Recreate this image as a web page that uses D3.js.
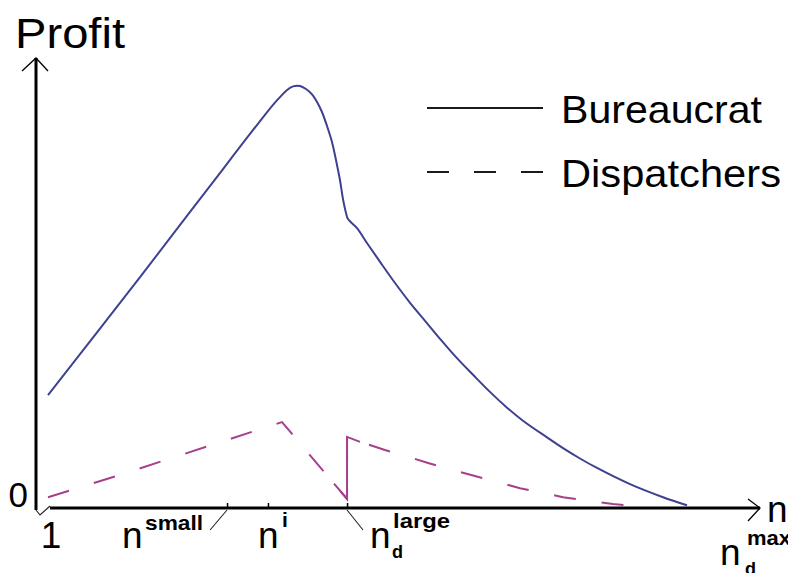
<!DOCTYPE html>
<html><head><meta charset="utf-8">
<script src="https://cdn.jsdelivr.net/npm/d3@7"></script>
<style>html,body{margin:0;padding:0;background:#fff;} svg{display:block;}</style>
</head><body><svg id="c" width="788" height="573"></svg>
<script>
// ---------- data ----------
const seriesNames = ["Bureaucrat", "Dispatchers"];
const bureaucratN = [1, 8.67, 14.25, 19.75, 20.33, 20.92, 21.42, 22, 22.5, 23, 23.42, 23.83, 24.25, 24.67, 25, 25.33, 25.58, 25.83, 26, 26.75, 27.58, 28.67, 29.92, 31.17, 32.42, 33.67, 35.08, 36.42, 37.83, 39.25, 40.58, 42.58, 43.92, 45.33, 46.75, 49.5, 52.25, 54.25];
const bureaucratProfit = [25.1, 51.3, 70.7, 89.6, 91.3, 92.9, 93.7, 93.8, 93.1, 91.9, 90.2, 88.0, 84.9, 81.3, 77.3, 72.9, 68.7, 65.6, 64.2, 62.2, 58.9, 54.7, 50.0, 45.6, 41.6, 37.6, 33.3, 29.6, 25.8, 22.3, 19.4, 15.7, 13.3, 11.0, 8.9, 5.3, 2.4, 0.6];
const dispatchersN = [1, 7.17, 15.08, 20.5, 25.92, 25.92, 27, 29.08, 30.5, 32.67, 34.33, 36.58, 38.42, 40.33, 41.75, 43.92, 46, 48.08, 50.08];
const dispatchersProfit = [2.4, 7.5, 14.4, 19.1, 2.0, 15.8, 14.7, 12.9, 11.8, 10.0, 8.7, 7.1, 5.8, 4.4, 3.6, 2.4, 1.6, 0.9, 0.4];
const xTickValues = [1, 15.92, 19.33, 25.92, 54.25];
const xTickLabels = [
  {base: "1"},
  {base: "n", sup: "small"},
  {base: "n", sup: "i"},
  {base: "n", sub: "d", sup: "large"},
  {base: "n", sub: "d", sup: "max"}
];
const yTickValues = [0];
const yTickLabels = ["0"];
const yAxisTitle = "Profit";
const xAxisTitle = "n";

// ---------- layout / style ----------
const W = 788, H = 573;
const FONT = "'Liberation Sans', Arial, Helvetica, sans-serif";
const colors = ["#3d418f", "#a5408e"];
const x = d3.scaleLinear().domain([0, 60.333]).range([36, 760]);
const y = d3.scaleLinear().domain([0, 100]).range([508, 58]);

// label placement relative to tick position (pixels)
const labelLayout = [
  {bx: 3, anchor: "middle", by: 548},
  {bx: -105, by: 548, supX: 23, supY: 530, supLen: 58, leader: [[0, 2], [-17, 22]]},
  {bx: -10, by: 548, supX: 24, supY: 527},
  {bx: 23, by: 548, subX: 22, subY: 558, supX: 23, supY: 528, supLen: 57, leader: [[0, 2], [16, 22]]},
  {bx: 33, by: 565, subX: 25, subY: 575, supX: 27, supY: 545, supLen: 44, noTickMark: true}
];

const svg = d3.select("#c");
svg.append("rect").attr("width", W).attr("height", H).attr("fill", "#fff");

// ---------- axes ----------
const axisG = svg.append("g");
axisG.append("line").attr("x1", x(0)).attr("x2", x(0)).attr("y1", y(100)).attr("y2", y(0) + 2)
  .attr("stroke", "#000").attr("stroke-width", 3);
axisG.append("path").attr("d", `M${x(0) - 14},${y(100) + 13}L${x(0)},${y(100)}L${x(0) + 12},${y(100) + 13}`)
  .attr("fill", "none").attr("stroke", "#000").attr("stroke-width", 1.3);
axisG.append("line").attr("x1", x(1.17)).attr("x2", x(60.333)).attr("y1", y(0)).attr("y2", y(0))
  .attr("stroke", "#000").attr("stroke-width", 3.2);
axisG.append("path").attr("d", `M${x(0)},${y(0) + 2}L${x(0) + 4},${y(0) + 7}L${x(1.17)},${y(0) - 2}`)
  .attr("fill", "none").attr("stroke", "#222").attr("stroke-width", 1.2);
axisG.append("path").attr("d", `M${x(60.333) - 12},${y(0) - 9}L${x(60.333)},${y(0)}L${x(60.333) - 12},${y(0) + 13}`)
  .attr("fill", "none").attr("stroke", "#000").attr("stroke-width", 1.3);

// tick marks via d3 axis
const markTicks = xTickValues.filter((v, i) => i > 0 && !labelLayout[i].noTickMark);
const xAxis = d3.axisBottom(x).tickValues(markTicks).tickSizeInner(-5).tickSizeOuter(0).tickFormat("");
const gx = svg.append("g").attr("transform", `translate(0,${y(0)})`).call(xAxis);
gx.select(".domain").remove();
gx.selectAll(".tick line").attr("stroke", "#000").attr("stroke-width", 1.5);

// tick labels
xTickValues.forEach((v, i) => {
  const L = labelLayout[i], lab = xTickLabels[i], px = x(v);
  const g = svg.append("g").attr("font-family", FONT).attr("fill", "#000");
  g.append("text").attr("x", px + L.bx).attr("y", L.by).attr("font-size", 37)
    .attr("text-anchor", L.anchor || "start").text(lab.base);
  if (lab.sup) {
    const t = g.append("text").attr("x", px + L.bx + L.supX).attr("y", L.supY)
      .attr("font-size", 21).attr("font-weight", "bold").text(lab.sup);
    if (L.supLen) t.attr("textLength", L.supLen).attr("lengthAdjust", "spacingAndGlyphs");
  }
  if (lab.sub) {
    g.append("text").attr("x", px + L.bx + L.subX).attr("y", L.subY)
      .attr("font-size", 18).attr("font-weight", "bold").text(lab.sub);
  }
  if (L.leader) {
    g.append("line").attr("x1", px + L.leader[0][0]).attr("y1", y(0) + L.leader[0][1])
      .attr("x2", px + L.leader[1][0]).attr("y2", y(0) + L.leader[1][1])
      .attr("stroke", "#222").attr("stroke-width", 1.1);
  }
});

yTickValues.forEach((v, i) => {
  svg.append("text").attr("x", x(0) - 8).attr("y", y(v) - 1).attr("text-anchor", "end")
    .attr("font-family", FONT).attr("font-size", 35).text(yTickLabels[i]);
});

svg.append("text").attr("x", 15).attr("y", 48).attr("font-family", FONT).attr("font-size", 42)
  .attr("textLength", 110).attr("lengthAdjust", "spacingAndGlyphs").text(yAxisTitle);
svg.append("text").attr("x", x(60.333) + 7).attr("y", y(0) + 14).attr("font-family", FONT).attr("font-size", 37)
  .text(xAxisTitle);

// ---------- series ----------
const bData = bureaucratN.map((n, i) => [n, bureaucratProfit[i]]);
const dData = dispatchersN.map((n, i) => [n, dispatchersProfit[i]]);

svg.append("path").datum(bData)
  .attr("d", d3.line().x(d => x(d[0])).y(d => y(d[1])).curve(d3.curveCatmullRom.alpha(0.5)))
  .attr("fill", "none").attr("stroke", colors[0]).attr("stroke-width", 2).attr("stroke-linejoin", "round");

svg.append("path").datum(dData)
  .attr("d", d3.line().x(d => x(d[0])).y(d => y(d[1])))
  .attr("fill", "none").attr("stroke", colors[1]).attr("stroke-width", 2)
  .attr("stroke-dasharray", "22,26");

// solid jump segment (where two points share the same n)
const jumpIdx = dispatchersN.findIndex((n, i) => i > 0 && n === dispatchersN[i - 1]);
if (jumpIdx > 0) {
  const a = dData[jumpIdx - 1], b = dData[jumpIdx], c = dData[jumpIdx + 1];
  const lead = [a[0] - (a[0] - dData[jumpIdx - 2][0]) * 0.2, a[1] + (dData[jumpIdx - 2][1] - a[1]) * 0.2];
  svg.append("path").datum([lead, a, b, c])
    .attr("d", d3.line().x(d => x(d[0])).y(d => y(d[1])))
    .attr("fill", "none").attr("stroke", colors[1]).attr("stroke-width", 2);
}

// ---------- legend ----------
const legend = svg.append("g");
seriesNames.forEach((name, i) => {
  const ly = 108 + i * 64;
  legend.append("line").attr("x1", 427).attr("x2", 543).attr("y1", ly).attr("y2", ly)
    .attr("stroke", "#1a1a1a").attr("stroke-width", 1.8)
    .attr("stroke-dasharray", i === 1 ? "22,25" : null);
  legend.append("text").attr("x", 561).attr("y", ly + 15).attr("font-family", FONT).attr("font-size", 39)
    .attr("textLength", i === 0 ? 201 : 220).attr("lengthAdjust", "spacingAndGlyphs").text(name);
});
</script></body></html>
